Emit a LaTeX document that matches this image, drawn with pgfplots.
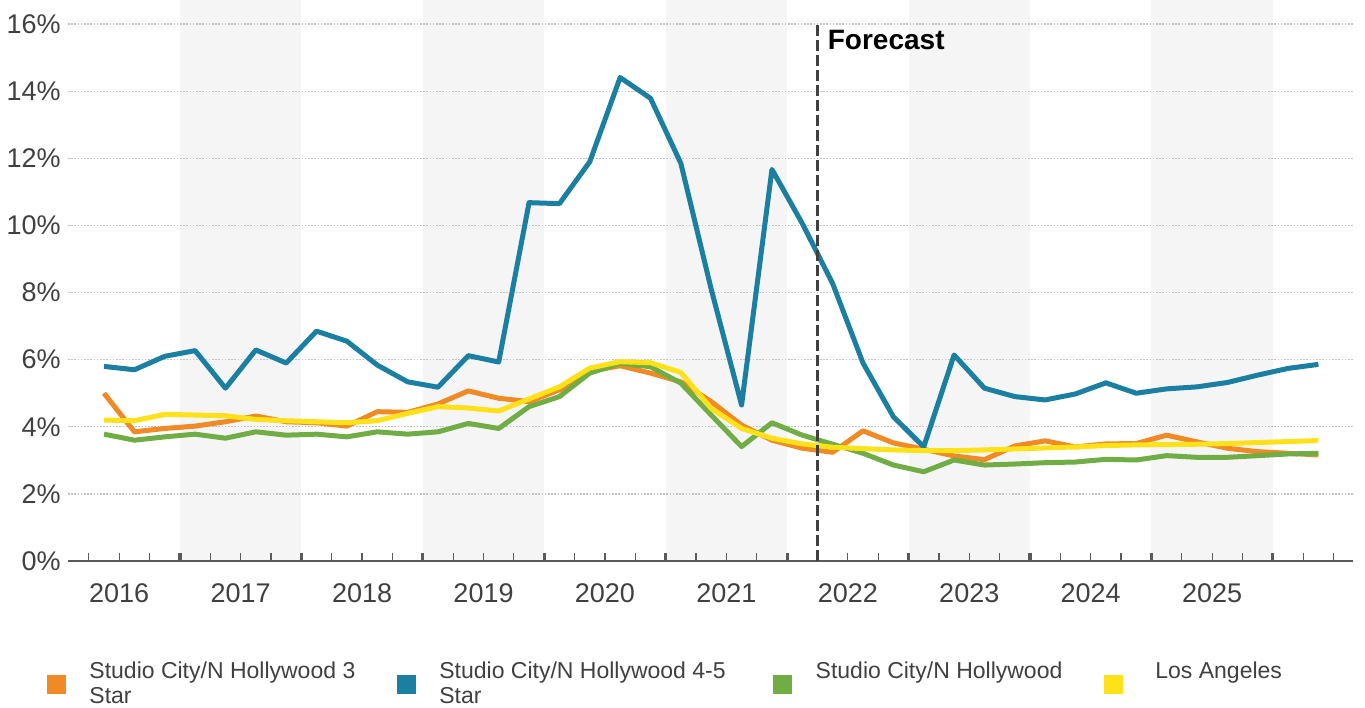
\documentclass[border=0pt]{standalone}
\usepackage{pgfplots}
\usepackage{pgfplotstable}
\pgfplotsset{compat=1.18}
\usepackage{fontspec}
\setmainfont{Liberation Sans}
\definecolor{cthree}{HTML}{F08A24}
\definecolor{cfour}{HTML}{1B7FA1}
\definecolor{csub}{HTML}{70AE45}
\definecolor{cla}{HTML}{FFE11A}
\definecolor{txt}{HTML}{404040}
\definecolor{band}{HTML}{F5F5F5}
\definecolor{axc}{HTML}{5A5A5A}
\definecolor{gridc}{HTML}{C2C2C2}

\pgfplotstableread{
x    s3    s45    sub   la
1.5  5.00  5.80   3.78  4.20
2.5  3.85  5.70   3.60  4.18
3.5  3.95  6.10   3.70  4.37
4.5  4.02  6.27   3.78  4.35
5.5  4.15  5.15   3.66  4.33
6.5  4.32  6.29   3.85  4.22
7.5  4.15  5.90   3.75  4.18
8.5  4.12  6.85   3.78  4.15
9.5  4.02  6.55   3.70  4.12
10.5 4.45  5.84   3.85  4.18
11.5 4.43  5.34   3.78  4.40
12.5 4.68  5.18   3.85  4.60
13.5 5.07  6.12   4.10  4.56
14.5 4.85  5.93   3.95  4.47
15.5 4.75  10.68  4.60  4.83
16.5 5.10  10.65  4.90  5.19
17.5 5.65  11.90  5.60  5.75
18.5 5.82  14.41  5.89  5.94
19.5 5.60  13.79  5.79  5.91
20.5 5.34  11.85  5.30  5.62
21.5 4.75  8.10   4.35  4.55
22.5 4.05  4.65   3.41  3.95
23.5 3.60  11.67  4.12  3.66
24.5 3.36  10.06  3.75  3.49
25.5 3.24  8.27   3.48  3.39
26.5 3.88  5.90   3.21  3.35
27.5 3.52  4.30   2.86  3.31
28.5 3.33  3.40   2.66  3.29
29.5 3.13  6.14   3.01  3.29
30.5 3.02  5.15   2.86  3.31
31.5 3.43  4.90   2.89  3.34
32.5 3.58  4.80   2.93  3.37
33.5 3.40  4.98   2.95  3.40
34.5 3.49  5.31   3.03  3.44
35.5 3.50  5.00   3.01  3.46
36.5 3.75  5.13   3.14  3.47
37.5 3.55  5.19   3.09  3.48
38.5 3.36  5.32   3.09  3.50
39.5 3.26  5.54   3.14  3.53
40.5 3.21  5.74   3.19  3.56
41.5 3.16  5.86   3.21  3.59
}\data

\begin{document}
\begin{tikzpicture}
\begin{axis}[
  at={(34pt,73pt)}, anchor=south west,
  scale only axis, width=642.5pt, height=280.5pt,
  set layers,
  xmin=0.313, xmax=42.64, ymin=0, ymax=16.72,
  axis x line*=bottom, axis y line*=left,
  y axis line style={draw=none},
  x axis line style={color=axc, line width=1pt},
  /pgf/number format/assume math mode=true,
  ytick={0,2,...,16},
  yticklabels={0\%,2\%,4\%,6\%,8\%,10\%,12\%,14\%,16\%},
  ytick style={draw=none},
  yticklabel style={font=\fontsize{13.5pt}{16pt}\selectfont, text=txt, inner sep=0pt, xshift=-3.5pt},
  ymajorgrids,
  grid style={color=gridc, line width=0.7pt, dash pattern=on 0.8pt off 0.8pt},
  xtick={2,6,...,38},
  xticklabels={2016,2017,2018,2019,2020,2021,2022,2023,2024,2025},
  minor xtick={1,3,5,7,9,11,13,15,17,19,21,23,25,27,29,31,33,35,37,39,41,42},
  tick align=inside, major tick length=4pt, minor tick length=4pt,
  xtick style={color=axc, line width=0.6pt},
  minor tick style={color=axc, line width=0.6pt},
  xticklabel style={font=\fontsize{13.5pt}{16pt}\selectfont, text=txt, inner sep=0pt, yshift=-11pt},
  legend columns=4,
  legend cell align=left,
  legend style={at={(axis description cs:-0.0163,-0.171)}, anchor=north west,
    draw=none, fill=none, inner sep=0pt,
    font=\fontsize{11.5pt}{12.5pt}\selectfont, text=txt,
    cells={inner sep=0pt},
    /tikz/every odd column/.append style={column sep=10pt},
    /tikz/every even column/.append style={column sep=19pt}},
  legend image code/.code={\fill[#1, line width=0pt] (0pt,-11pt) rectangle (9pt,-2pt);},
]
\begin{pgfonlayer}{axis background}
  \fill[band] (axis cs:4,0) rectangle (axis cs:8,16.72);
  \fill[band] (axis cs:12,0) rectangle (axis cs:16,16.72);
  \fill[band] (axis cs:20,0) rectangle (axis cs:24,16.72);
  \fill[band] (axis cs:28,0) rectangle (axis cs:32,16.72);
  \fill[band] (axis cs:36,0) rectangle (axis cs:40,16.72);
\end{pgfonlayer}
\addplot[cthree, line width=2.5pt, line join=round] table[x=x,y=s3]{\data};
\addlegendentry{\begin{tabular}[t]{@{}l@{}}Studio City/N Hollywood 3\\Star\end{tabular}}
\addplot[cfour, line width=2.5pt, line join=round] table[x=x,y=s45]{\data};
\addlegendentry{\begin{tabular}[t]{@{}l@{}}Studio City/N Hollywood 4-5\\Star\end{tabular}\hspace*{3pt}}
\addplot[csub, line width=2.5pt, line join=round] table[x=x,y=sub]{\data};
\addlegendentry{Studio City/N Hollywood}
\addplot[cla, line width=2.5pt, line join=round] table[x=x,y=la]{\data};
\addlegendentry{\hspace*{4.5pt}Los Angeles}
\pgfplotsinvokeforeach{4,8,...,40}{
  \draw[axc, line width=1.6pt] ([yshift=4pt]axis cs:#1,0) -- ([yshift=-6pt]axis cs:#1,0);
}
\draw[color=txt, line width=1.5pt, dash pattern=on 5.5pt off 2pt] (axis cs:25,0) -- (axis cs:25,16);
\node[anchor=west, inner sep=0pt, font=\bfseries\fontsize{14pt}{16pt}\selectfont, text=black] at (axis cs:25,15.52) [xshift=5pt] {Forecast};
\end{axis}
\pgfresetboundingbox
\path[use as bounding box] (0,0) rectangle (682.5pt,353.5pt);
\end{tikzpicture}
\end{document}
